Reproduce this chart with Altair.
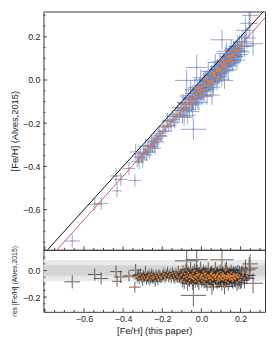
import altair as alt
import pandas as pd
import numpy as np

# [Fe/H] from this paper (x) and from Alves 2015 (y), with 1-sigma errors
feh_paper = [
    -0.660, -0.545, -0.512, -0.436, -0.431, -0.412, -0.370, -0.340, -0.336, -0.322,
    -0.328, -0.318, -0.312, -0.305, -0.300, -0.296, -0.290, -0.286, -0.281, -0.276,
    -0.272, -0.268, -0.263, -0.258, -0.254, -0.250, -0.246, -0.241, -0.236, -0.232,
    -0.227, -0.222, -0.217, -0.212, -0.206,
    -0.198, -0.192, -0.186, -0.180, -0.173, -0.167, -0.160, -0.154, -0.148, -0.142,
    -0.136, -0.130, -0.124, -0.118, -0.112, -0.106,
    -0.100, -0.097, -0.094, -0.091, -0.088, -0.085, -0.082, -0.079, -0.076, -0.073,
    -0.070, -0.067, -0.064, -0.061, -0.058, -0.055, -0.052, -0.049, -0.046, -0.043,
    -0.040, -0.037, -0.034, -0.031, -0.028, -0.025, -0.022, -0.019, -0.016, -0.013,
    -0.010, -0.007, -0.004, -0.001, 0.002, 0.005, 0.008, 0.011, 0.014, 0.017,
    0.020, 0.023, 0.026, 0.029, 0.032, 0.035, 0.038, 0.041, 0.044, 0.047,
    0.050, 0.053, 0.056, 0.059, 0.062, 0.065, 0.068, 0.071, 0.074, 0.077,
    0.080, 0.083, 0.086, 0.089, 0.092, 0.095, 0.098, 0.101, 0.104, 0.107,
    0.110, 0.113, 0.116, 0.119, 0.122, 0.125, 0.128, 0.131, 0.134, 0.137,
    0.140, 0.143, 0.146, 0.149, 0.152, 0.155, 0.158, 0.161, 0.164, 0.167,
    0.170, 0.174, 0.178, 0.182, 0.186, 0.190, 0.195, 0.200, 0.205, 0.212, 0.220,
    -0.060, -0.045, -0.030, -0.018, -0.005, 0.000, 0.010, 0.018, 0.027, 0.036,
    0.045, 0.052, 0.060, 0.066, 0.072, 0.079, 0.085, 0.091, 0.097, 0.103,
    0.109, 0.115, 0.121, 0.127, 0.133, 0.139, 0.145, 0.151, 0.157, 0.163,
    0.169, 0.176, 0.184, 0.192,
    -0.075, -0.024, 0.105, 0.244, 0.264, 0.249, 0.118, -0.041, 0.054, 0.128,
    0.232, 0.225,
]
feh_alves = [
    -0.745, -0.575, -0.572, -0.444, -0.513, -0.460, -0.410, -0.465, -0.333, -0.357,
    -0.376, -0.380, -0.342, -0.360, -0.370, -0.336, -0.342, -0.306, -0.346, -0.321,
    -0.330, -0.303, -0.335, -0.308, -0.282, -0.310, -0.288, -0.296, -0.316, -0.270,
    -0.277, -0.287, -0.247, -0.257, -0.261,
    -0.238, -0.217, -0.236, -0.215, -0.188, -0.212, -0.190, -0.209, -0.168, -0.182,
    -0.196, -0.158, -0.169, -0.128, -0.162, -0.141,
    -0.130, -0.167, -0.104, -0.141, -0.173, -0.110, -0.127, -0.074, -0.136, -0.108,
    -0.165, -0.082, -0.114, -0.136, -0.088, -0.045, -0.107, -0.089, -0.146, -0.063,
    -0.105, -0.082, -0.034, -0.111, -0.063, -0.080, -0.037, -0.089, -0.056, -0.103,
    -0.035, -0.067, 0.011, -0.046, -0.073, -0.025, -0.047, 0.001, -0.071, -0.023,
    -0.045, 0.003, -0.024, -0.076, -0.003, 0.040, -0.022, -0.004, -0.036, 0.022,
    -0.005, 0.038, -0.014, 0.019, -0.033, 0.035, 0.018, 0.081, 0.009, 0.042,
    -0.005, 0.063, 0.031, 0.044, 0.017, 0.085, 0.038, 0.071, 0.004, 0.062,
    0.090, 0.043, 0.081, 0.064, 0.122, 0.045, 0.088, 0.071, 0.109, 0.047,
    0.090, 0.113, 0.076, 0.104, 0.137, 0.095, 0.118, 0.081, 0.139, 0.112,
    0.135, 0.109, 0.133, 0.092, 0.156, 0.135, 0.155, 0.130, 0.155, 0.177, 0.160,
    -0.105, -0.105, -0.080, -0.048, -0.055, -0.035, -0.050, -0.007, -0.043, -0.004,
    -0.010, 0.022, -0.005, 0.026, 0.022, 0.049, 0.015, 0.051, 0.047, 0.038,
    0.074, 0.065, 0.081, 0.067, 0.088, 0.104, 0.090, 0.111, 0.087, 0.118,
    0.109, 0.146, 0.134, 0.117,
    -0.002, 0.058, 0.186, 0.262, 0.168, 0.299, -0.002, -0.228, -0.070, 0.133,
    0.195, 0.230,
]
err_paper = [
    0.040, 0.035, 0.035, 0.030, 0.025, 0.035, 0.030, 0.030, 0.030, 0.030,
    0.030, 0.025, 0.035, 0.030, 0.028, 0.032, 0.025, 0.040, 0.030, 0.027,
    0.033, 0.030, 0.025, 0.035, 0.030, 0.028, 0.032, 0.026, 0.030, 0.036,
    0.029, 0.031, 0.027, 0.034, 0.030,
    0.032, 0.028, 0.035, 0.030, 0.026, 0.034, 0.030, 0.028, 0.036, 0.031,
    0.027, 0.033, 0.029, 0.035, 0.030, 0.032,
    0.035, 0.040, 0.030, 0.045, 0.038, 0.032, 0.042, 0.036, 0.030, 0.044,
    0.039, 0.033, 0.047, 0.035, 0.041, 0.030, 0.037, 0.043, 0.034, 0.040,
    0.036, 0.045, 0.031, 0.038, 0.042, 0.035, 0.048, 0.033, 0.039, 0.044,
    0.030, 0.041, 0.036, 0.046, 0.034, 0.040, 0.037, 0.043, 0.032, 0.038,
    0.045, 0.035, 0.041, 0.031, 0.047, 0.036, 0.039, 0.044, 0.033, 0.040,
    0.037, 0.042, 0.034, 0.046, 0.038, 0.031, 0.043, 0.036, 0.040, 0.045,
    0.033, 0.039, 0.048, 0.035, 0.041, 0.037, 0.044, 0.032, 0.040, 0.046,
    0.036, 0.042, 0.034, 0.039, 0.045, 0.038, 0.031, 0.043, 0.037, 0.041,
    0.047, 0.035, 0.040, 0.044, 0.033, 0.039, 0.046, 0.036, 0.042, 0.038,
    0.045, 0.040, 0.048, 0.043, 0.050, 0.045, 0.052, 0.048, 0.055, 0.050, 0.052,
    0.035, 0.040, 0.033, 0.038, 0.042, 0.036, 0.039, 0.034, 0.041, 0.037,
    0.043, 0.035, 0.040, 0.038, 0.036, 0.042, 0.039, 0.034, 0.041, 0.037,
    0.044, 0.036, 0.040, 0.038, 0.043, 0.035, 0.041, 0.039, 0.045, 0.037,
    0.042, 0.046, 0.040, 0.048,
    0.060, 0.055, 0.060, 0.045, 0.050, 0.040, 0.045, 0.065, 0.040, 0.050,
    0.045, 0.050,
]
err_alves = [
    0.030, 0.030, 0.030, 0.035, 0.030, 0.030, 0.030, 0.030, 0.035, 0.030,
    0.028, 0.032, 0.030, 0.025, 0.035, 0.030, 0.027, 0.033, 0.029, 0.031,
    0.026, 0.034, 0.030, 0.028, 0.032, 0.027, 0.030, 0.035, 0.029, 0.026,
    0.031, 0.033, 0.028, 0.030, 0.027,
    0.030, 0.033, 0.027, 0.031, 0.035, 0.028, 0.032, 0.030, 0.026, 0.034,
    0.029, 0.031, 0.033, 0.028, 0.030, 0.027,
    0.032, 0.036, 0.040, 0.030, 0.038, 0.034, 0.042, 0.031, 0.037, 0.035,
    0.041, 0.033, 0.039, 0.036, 0.030, 0.044, 0.035, 0.038, 0.032, 0.040,
    0.034, 0.037, 0.043, 0.031, 0.036, 0.039, 0.033, 0.045, 0.035, 0.038,
    0.042, 0.031, 0.037, 0.034, 0.040, 0.036, 0.044, 0.032, 0.038, 0.035,
    0.033, 0.041, 0.036, 0.039, 0.031, 0.045, 0.034, 0.037, 0.042, 0.035,
    0.039, 0.032, 0.044, 0.036, 0.038, 0.041, 0.033, 0.040, 0.035, 0.037,
    0.043, 0.036, 0.031, 0.039, 0.034, 0.042, 0.037, 0.040, 0.033, 0.038,
    0.035, 0.041, 0.038, 0.044, 0.032, 0.036, 0.043, 0.035, 0.039, 0.046,
    0.037, 0.042, 0.040, 0.035, 0.048, 0.038, 0.041, 0.044, 0.039, 0.047,
    0.042, 0.050, 0.045, 0.048, 0.052, 0.046, 0.055, 0.050, 0.058, 0.052, 0.055,
    0.034, 0.037, 0.040, 0.033, 0.036, 0.039, 0.035, 0.041, 0.034, 0.038,
    0.036, 0.042, 0.035, 0.039, 0.037, 0.033, 0.040, 0.036, 0.043, 0.035,
    0.038, 0.041, 0.037, 0.044, 0.036, 0.040, 0.038, 0.045, 0.039, 0.042,
    0.047, 0.041, 0.049, 0.045,
    0.050, 0.060, 0.045, 0.070, 0.055, 0.060, 0.040, 0.050, 0.045, 0.040,
    0.050, 0.060,
]

# straight lines drawn in the top panel (end points inside the plotted range)
identity_x = [-0.786, 0.317]
fit_x = [-0.737, 0.325]
FIT_SLOPE = 1.01
FIT_INTERCEPT = -0.041

# residual bands
band_inner = [-0.04, 0.04]
band_outer = [-0.08, 0.08]

# tick positions
x_major = [-0.8, -0.6, -0.4, -0.2, 0.0, 0.2]
x_minor = [-0.75, -0.7, -0.65, -0.55, -0.5, -0.45, -0.35, -0.3, -0.25,
           -0.15, -0.1, -0.05, 0.05, 0.1, 0.15, 0.25, 0.3]
x_labels = [-0.6, -0.4, -0.2, 0.0, 0.2]
y1_major = [-0.6, -0.4, -0.2, 0.0, 0.2]
y1_minor = [-0.75, -0.7, -0.65, -0.55, -0.5, -0.45, -0.35, -0.3, -0.25,
            -0.15, -0.1, -0.05, 0.05, 0.1, 0.15, 0.25, 0.3]
y2_major = [-0.2, 0.0]
y2_minor = [-0.3, -0.25, -0.15, -0.1, -0.05, 0.05, 0.1, 0.15]

df = pd.DataFrame({"paper": feh_paper, "alves": feh_alves,
                   "ex": err_paper, "ey": err_alves})
df["res"] = df["alves"] - df["paper"]
df["er"] = np.sqrt(df["ex"] ** 2 + df["ey"] ** 2)
df["x_lo"] = df["paper"] - df["ex"]
df["x_hi"] = df["paper"] + df["ex"]
df["y_lo"] = df["alves"] - df["ey"]
df["y_hi"] = df["alves"] + df["ey"]
df["r_lo"] = df["res"] - df["er"]
df["r_hi"] = df["res"] + df["er"]

ident = pd.DataFrame({"x": identity_x})
ident["y"] = ident["x"]
fit = pd.DataFrame({"x": fit_x})
fit["y"] = FIT_SLOPE * fit["x"] + FIT_INTERCEPT

W, H1, H2 = 225, 242, 63
FONT = "Liberation Sans"
FRAME = "#3a3a3a"
BLUE = "#5b82c6"
ORANGE = "#e8803a"
DARK = "#2e2e2e"

xs = alt.Scale(domain=[-0.807, 0.325], nice=False, zero=False)
ys1 = alt.Scale(domain=[-0.786, 0.317], nice=False, zero=False)
ys2 = alt.Scale(domain=[-0.311, 0.156], nice=False, zero=False)

# shared axis definitions (identical on every layer so they merge into one)
Y1_AXIS = alt.Axis(values=y1_major, format=".1f", labelPadding=3.5, titlePadding=3.5)
Y1_TITLE = "[Fe/H] (Alves,2015)"
Y2_AXIS = alt.Axis(values=y2_major, format=".1f", labelPadding=3.5, titlePadding=5,
                   titleFontSize=7)
Y2_TITLE = "res [Fe/H] (Alves,2015)"
X2_AXIS = alt.Axis(values=x_labels, format=".1f", labelPadding=3, titlePadding=2)
X_TITLE = "[Fe/H] (this paper)"


def X1(field):
    return alt.X(field, scale=xs, axis=None)


def Y1(field):
    return alt.Y(field, scale=ys1, axis=Y1_AXIS, title=Y1_TITLE)


def X2(field):
    return alt.X(field, scale=xs, axis=X2_AXIS, title=X_TITLE)


def Y2(field):
    return alt.Y(field, scale=ys2, axis=Y2_AXIS, title=Y2_TITLE)


def left_ticks(vals, yenc, length):
    return alt.Chart(pd.DataFrame({"v": vals})).mark_rule(
        color=FRAME, strokeWidth=1).encode(
        y=yenc("v:Q"), x=alt.value(0), x2=alt.value(length))


def bottom_ticks(vals, xenc, length, h):
    return alt.Chart(pd.DataFrame({"v": vals})).mark_rule(
        color=FRAME, strokeWidth=1).encode(
        x=xenc("v:Q"), y=alt.value(h - length), y2=alt.value(h))


base = alt.Chart(df)

top_h = base.mark_rule(color=BLUE, opacity=0.7, strokeWidth=1, clip=True).encode(
    x=X1("x_lo:Q"), x2="x_hi:Q", y=Y1("alves:Q"))
top_v = base.mark_rule(color=BLUE, opacity=0.7, strokeWidth=1, clip=True).encode(
    x=X1("paper:Q"), y=Y1("y_lo:Q"), y2="y_hi:Q")
one_line = alt.Chart(ident).mark_line(color="#111111", strokeWidth=1, clip=True).encode(
    x=X1("x:Q"), y=Y1("y:Q"))
fit_line = alt.Chart(fit).mark_line(color="#d65a5a", strokeWidth=1, clip=True).encode(
    x=X1("x:Q"), y=Y1("y:Q"))
top_pts = base.mark_circle(color=ORANGE, size=4, opacity=1, clip=True).encode(
    x=X1("paper:Q"), y=Y1("alves:Q"))

top = alt.layer(
    top_h, top_v, one_line, fit_line, top_pts,
    left_ticks(y1_major, Y1, 3.5), left_ticks(y1_minor, Y1, 2),
    bottom_ticks(x_major, X1, 3.5, H1), bottom_ticks(x_minor, X1, 2, H1),
).properties(width=W, height=H1)

bands = pd.DataFrame({"lo": [band_outer[0], band_inner[0]],
                      "hi": [band_outer[1], band_inner[1]],
                      "c": ["outer", "inner"]})
band_layer = alt.Chart(bands).mark_rect(clip=True).encode(
    x=alt.value(0), x2=alt.value(W),
    y=Y2("lo:Q"), y2="hi:Q",
    color=alt.Color("c:N", scale=alt.Scale(domain=["outer", "inner"],
                                           range=["#e9e9e9", "#d4d4d4"]),
                    legend=None))
res_h = base.mark_rule(color=DARK, opacity=0.75, strokeWidth=1, clip=True).encode(
    x=X2("x_lo:Q"), x2="x_hi:Q", y=Y2("res:Q"))
res_v = base.mark_rule(color=DARK, opacity=0.75, strokeWidth=1, clip=True).encode(
    x=X2("paper:Q"), y=Y2("r_lo:Q"), y2="r_hi:Q")
res_pts = base.mark_circle(color=ORANGE, size=4, opacity=1, clip=True).encode(
    x=X2("paper:Q"), y=Y2("res:Q"))

bottom = alt.layer(
    band_layer, res_h, res_v, res_pts,
    left_ticks(y2_major, Y2, 3.5), left_ticks(y2_minor, Y2, 2),
    bottom_ticks(x_major, X2, 3.5, H2), bottom_ticks(x_minor, X2, 2, H2),
).properties(width=W, height=H2)

chart = alt.vconcat(top, bottom, spacing=0, bounds="flush").properties(
    padding={"left": 0, "top": 0, "right": 0, "bottom": 0}
).configure_view(stroke=FRAME, strokeWidth=1).configure_axis(
    labelFont=FONT, titleFont=FONT, labelFontSize=9, titleFontSize=9.5,
    labelColor="#222222", titleColor="#222222", titleFontWeight="normal",
    ticks=False, domain=False, grid=False)

chart.save("out.html", embed_options={"renderer": "svg", "actions": False})
